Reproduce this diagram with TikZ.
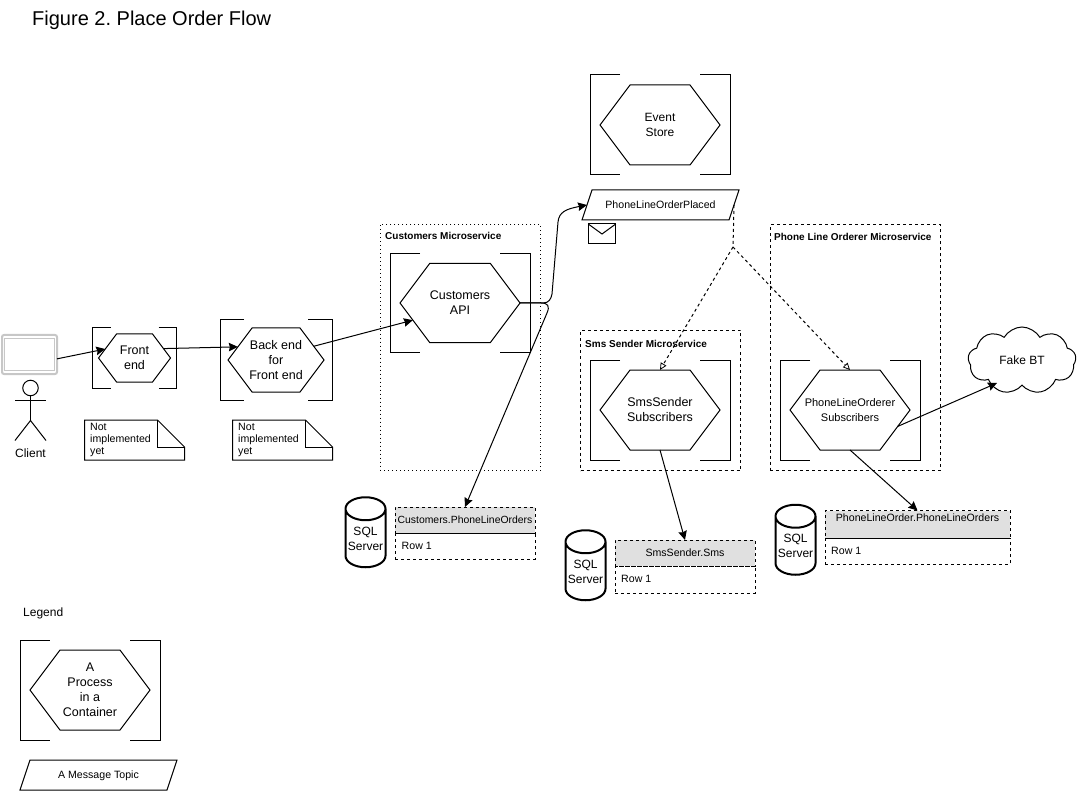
\documentclass[tikz,border=0pt]{standalone}
\usepackage{fontspec}
\setmainfont{Liberation Sans}
\usetikzlibrary{arrows.meta,shapes.geometric,shapes.symbols,calc}
\frenchspacing
\newcommand{\fs}[1]{\fontsize{#1}{15}\selectfont}
\tikzset{
  base/.style={line width=1pt,line join=miter},
  bracket/.style={base,draw=black},
  hex/.style={base,draw=black,fill=white,signal,signal to=east and west,signal pointer angle=106.26,inner sep=0pt,outer sep=0pt},
  flow/.style={base,-{Stealth[length=9pt,width=8.5pt,inset=1pt]}},
  subscribe/.style={base,dashed,dash pattern=on 3pt off 3pt,-{Triangle[open,fill=white,length=7pt,width=6.5pt,line width=0.8pt,sep=0pt]}},
  dashlink/.style={base,dash pattern=on 3pt off 3pt},
  topic/.style={base,draw=black,trapezium,trapezium left angle=71.57,trapezium right angle=108.43,trapezium stretches body=true,text height=18.5pt,text depth=11.5pt,minimum width=157pt,minimum height=30pt,inner sep=0pt,outer sep=0pt,font=\fs{10.6}},
  service/.style={base,draw=black,dash pattern=on 3pt off 3pt,inner sep=0pt,outer sep=0pt},
  svclabel/.style={inner sep=0pt,anchor=west,font=\fs{10}\bfseries},
  header/.style={base,draw=black,dash pattern=on 3pt off 3pt,fill=black!12,inner sep=0pt,outer sep=0pt,font=\fs{10.6}},
  rowbox/.style={base,draw=black,dash pattern=on 3pt off 3pt,inner sep=0pt,outer sep=0pt},
  rowtext/.style={inner sep=0pt,anchor=west,font=\fs{10.6}},
  db/.style={draw=black,line width=2pt,cylinder,shape border rotate=90,aspect=0.65,inner sep=0pt,outer sep=0pt,minimum height=70pt,minimum width=40pt,align=center,font=\fs{12}},
  notebody/.style={inner sep=0pt,outer sep=0pt,minimum width=100pt,minimum height=40pt,align=left},
  notetext/.style={inner sep=0pt,anchor=north west,align=left,font=\fontsize{10.6}{12}\selectfont},
}
% name, x, y, W, H, font size, text
\newcommand{\proc}[7]{%
  \pgfmathsetmacro\prA{#4*0.2142857}%
  \pgfmathsetmacro\prXa{#2+\prA}%
  \pgfmathsetmacro\prXb{#2+#4}%
  \pgfmathsetmacro\prXc{#2+#4-\prA}%
  \pgfmathsetmacro\prYb{#3+#5}%
  \pgfmathsetmacro\prCx{#2+#4/2}%
  \pgfmathsetmacro\prCy{#3+#5/2}%
  \pgfmathsetmacro\prW{#4*0.857143}%
  \pgfmathsetmacro\prH{#5*0.8}%
  \draw[bracket] (\prXa,#3) -- (#2,#3) -- (#2,\prYb) -- (\prXa,\prYb);
  \draw[bracket] (\prXc,#3) -- (\prXb,#3) -- (\prXb,\prYb) -- (\prXc,\prYb);
  \node[hex,minimum width=\prW pt,minimum height=\prH pt,label={[inner sep=0pt,align=center,font=\fs{#6}]center:{#7}}] (#1) at (\prCx,\prCy) {};
}
% name, x, y, text
\newcommand{\notebox}[4]{%
  \node[notebody,anchor=north west] (#1) at (#2,#3) {};
  \draw[base] (#1.north west) -- ($(#1.north east)+(-27,0)$) -- ($(#1.north east)+(0,27)$) -- (#1.south east) -- (#1.south west) -- cycle;
  \draw[base] ($(#1.north east)+(-27,0)$) -- ($(#1.north east)+(-27,27)$) -- ($(#1.north east)+(0,27)$);
  \node[notetext] at ($(#1.north west)+(5.5,3.5)$) {#4};
}
\begin{document}
\begin{tikzpicture}[x=1pt,y=-1pt]
\useasboundingbox (0,0) rectangle (1081,791);
\node[inner sep=0pt,anchor=west,font=\fs{20}] (title) at (32,20) {Figure 2. Place Order Flow};
\node[inner sep=0pt,anchor=west,font=\fs{12}] (legend) at (23,613) {Legend};

% services
\node[service,dash pattern=on 1pt off 3pt,minimum width=160.5pt,minimum height=246pt,anchor=north west] (svcC) at (380,224.5) {};
\node[svclabel] (svcCl) at (385,236) {Customers Microservice};
\node[service,minimum width=160pt,minimum height=140pt,anchor=north west] (svcS) at (580.5,330.5) {};
\node[svclabel] (svcSl) at (585,344) {Sms Sender Microservice};
\node[service,minimum width=170pt,minimum height=245.5pt,anchor=north west] (svcP) at (770,225) {};
\node[svclabel] (svcPl) at (774,237) {Phone Line Orderer Microservice};

% processes
\proc{event}{590}{75}{140}{100}{12}{Event\\Store}
\proc{cust}{390}{253.5}{140}{99}{12.5}{Customers\\API}
\proc{sms}{590}{360}{140}{100}{12.5}{SmsSender\\Subscribers}
\proc{plo}{780}{360}{140}{100}{11}{PhoneLineOrderer\\Subscribers}
\proc{leg}{20}{640}{140}{100}{12.5}{A\\Process\\in a\\Container}
\proc{front}{92.5}{328}{84}{60}{12.5}{Front\\end}
\proc{back}{220}{320}{112}{80}{12.5}{Back end\\for\\Front end}

% topics
\node[topic] (placed) at (660.5,205) {PhoneLineOrderPlaced};
\node[topic] (legtopic) at (98.5,775) {A Message Topic};
\node[draw=black,line width=1pt,inner sep=0pt,outer sep=0pt,minimum width=27.5pt,minimum height=20pt] (env) at (602,234) {};
\draw[base] (env.north west) -- (env.center) -- (env.north east);

% client
\node[draw=black!22,line width=2pt,rounded corners=2pt,inner sep=0pt,outer sep=0pt,minimum width=55pt,minimum height=39pt] (tablet) at (29.5,354.5) {};
\node[draw=black!22,line width=1pt,inner sep=0pt,outer sep=0pt,minimum width=50pt,minimum height=31pt] (screen) at (29.5,354.5) {};
\node[draw=black,line width=1pt,circle,inner sep=0pt,outer sep=0pt,minimum size=15.5pt] (head) at (30.5,388) {};
\coordinate (hip) at (30.5,420.5);
\draw[base] (head.south) -- (hip);
\draw[base] (15,400) -- (45.5,400);
\draw[base] (15,440.5) -- (hip) -- (46,440.5);
\node[inner sep=0pt,font=\fs{12}] (client) at (30.5,453.5) {Client};

% notes
\notebox{nf}{84.5}{420}{Not\\implemented\\yet}
\notebox{nb}{232.5}{420}{Not\\implemented\\yet}

% cloud
\node[draw=black,line width=1pt,cloud,cloud puffs=9,cloud puff arc=120,aspect=1.6,inner sep=0pt,outer sep=0pt,minimum width=108pt,minimum height=67pt,font=\fs{12}] (bt) at (1022,360.5) {Fake BT};
\coordinate (btin) at (997,383);

% databases
\node[db] (db1) at (365.5,538.5) {SQL\\Server};
\node[db] (db2) at (585.5,571.5) {SQL\\Server};
\node[db] (db3) at (795.5,546) {SQL\\Server};

% tables
\node[header,font=\fs{10.4},minimum width=140pt,minimum height=26pt,anchor=north west] (t1) at (395,507) {Customers.PhoneLineOrders};
\node[rowbox,minimum width=140pt,minimum height=26pt,anchor=north] (r1) at (t1.south) {};
\node[rowtext] (r1t) at (401.5,545.5) {Row 1};
\node[header,minimum width=140pt,minimum height=26pt,anchor=north west] (t2) at (615,540) {SmsSender.Sms};
\node[rowbox,minimum width=140pt,minimum height=27pt,anchor=north] (r2) at (t2.south) {};
\node[rowtext] (r2t) at (621,578.5) {Row 1};
\node[header,minimum width=185pt,minimum height=27.5pt,anchor=north west,text depth=13pt] (t3) at (825,510.5) {PhoneLineOrder.PhoneLineOrders};
\node[rowbox,minimum width=185pt,minimum height=26pt,anchor=north] (r3) at (t3.south) {};
\node[rowtext] (r3t) at (831,551) {Row 1};

% connectors
\draw[flow] (tablet.-9) -- (front.163);
\draw[flow] (front.18) -- (back.161);
\draw[flow] (back.20) -- (cust.200);
\draw[flow] (cust.east) -- (543,303) .. controls (549,303) and (551,299) .. (552,294) -- (558,222) .. controls (559,212) and (566,209) .. (placed.west);
\draw[flow] (cust.east) -- (541,303) .. controls (548,303) and (550,306) .. (547,313) -- (t1.north);
\coordinate (fork) at (733,247);
\draw[dashlink] (placed.east) -- (fork);
\draw[subscribe] (fork) -- (sms.north);
\draw[subscribe] (fork) -- (plo.north);
\draw[flow] (sms.south) -- (t2.north);
\draw[flow] (plo.south) -- (t3.north);
\draw[flow] (plo.-19.5) -- (btin);
\end{tikzpicture}
\end{document}
